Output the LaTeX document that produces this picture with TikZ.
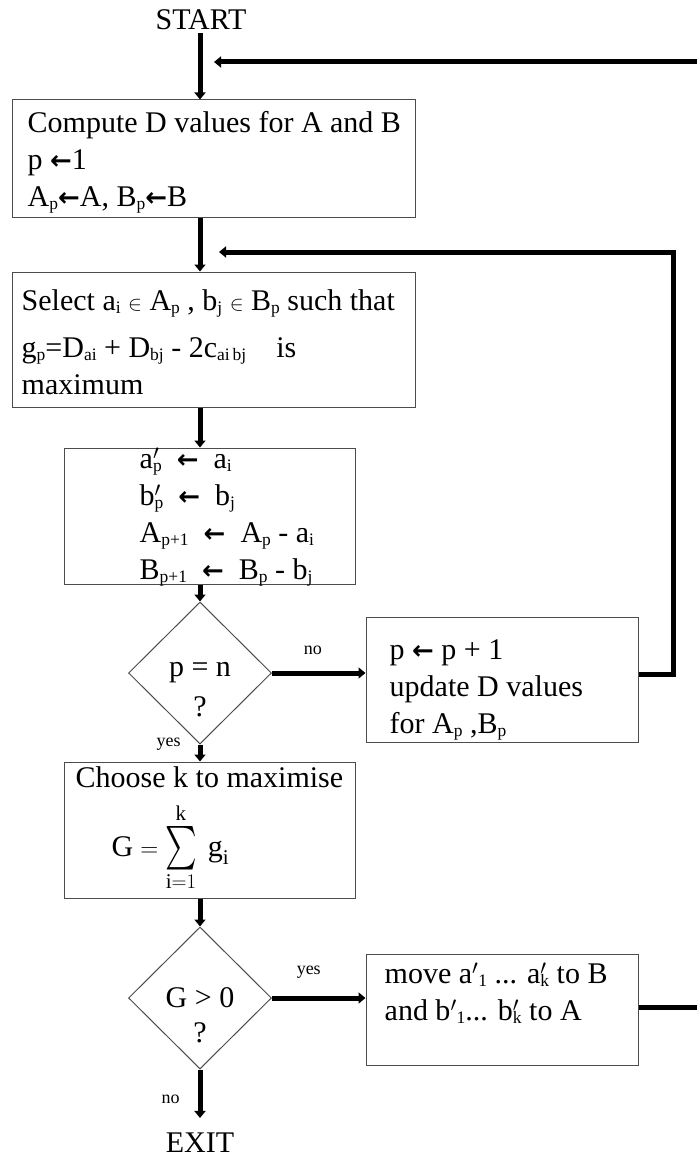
\documentclass[tikz,border=0pt]{standalone}
\usepackage{amsmath,amssymb}
\usepackage{graphicx}
\usepackage{fontspec}
\setmainfont{Liberation Serif}
\newfontfamily\arrfont{DejaVu Sans}
\usepackage{tikz}
\usetikzlibrary{arrows.meta,shapes.geometric}

\newcommand{\sbs}[1]{\raisebox{-3pt}{\fontsize{17.5}{17.5}\selectfont#1}}
\newcommand{\larr}{{\arrfont\bfseries\fontsize{26}{26}\selectfont ←}}

\tikzset{
  stepbox/.style={rectangle, draw=black!70, line width=1pt, inner sep=0pt},
  txt/.style={anchor=west, align=left, inner sep=0pt},
  decision/.style={diamond, draw=black!70, line width=1pt,
    minimum width=143pt, minimum height=142pt, inner sep=0pt},
  term/.style={inner sep=3pt},
  flow/.style={line width=5pt, -{Triangle[width=11pt,length=7pt]}},
  lbl/.style={font=\fontsize{18}{18}\selectfont, inner sep=2pt},
}

\begin{document}
\begin{tikzpicture}[x=1pt, y=-1pt, font=\fontsize{30}{37}\selectfont]
\useasboundingbox (0,0) rectangle (696,1158);
% start / exit
\node[term] (start) at (201,20) {START};
\node[term] (exit) at (200,1143) {EXIT};
% process boxes
\node[stepbox, minimum width=403pt, minimum height=118pt] (compute) at (213.5,159) {};
\node[txt] (computet) at ([xshift=16pt,yshift=-3pt]compute.west)
  {Compute D values for A and B\\ p \larr1\\ A\sbs{p}\larr A, B\sbs{p}\larr B};
\node[stepbox, minimum width=403pt, minimum height=135pt] (select) at (213.5,339.5) {};
\node[txt] (selectt) at ([xshift=10pt,yshift=-3pt]select.west)
  {Select a\sbs{i} $\scriptstyle\in$ A\sbs{p} , b\sbs{j} $\scriptstyle\in$ B\sbs{p} such that\\[10pt]
   g\sbs{p}=D\sbs{ai} + D\sbs{bj} - 2c\sbs{ai\,bj}\quad is\\ maximum};
\node[stepbox, minimum width=291pt, minimum height=136pt] (swap) at (209.5,516) {};
\node[txt] (swapt) at ([xshift=76pt,yshift=-1pt]swap.west)
  {a\rlap{$'$}\sbs{p}~~\larr~~a\sbs{i}\\
   b\rlap{$'$}\sbs{p}~~\larr~~b\sbs{j}\\
   A\sbs{p+1}~~\larr~~A\sbs{p} - a\sbs{i}\\
   B\sbs{p+1}~~\larr~~B\sbs{p} - b\sbs{j}};
\node[stepbox, minimum width=272pt, minimum height=125pt] (update) at (502,679.5) {};
\node[txt] (updatet) at ([xshift=24pt,yshift=-10pt]update.west)
  {p \larr{} p + 1\\ update D values\\ for A\sbs{p} ,B\sbs{p}};
\node[stepbox, minimum width=291pt, minimum height=136pt] (choose) at (209.5,830) {};
\node[txt] (chooset) at ([xshift=12pt,yshift=1pt]choose.west)
  {Choose k to maximise\\[14pt]
   \hspace*{36pt}$\text{G}=\mathop{\scalebox{1}[1.45]{$\sum$}}\limits_{\text{i}=1}^{\text{k}}\;\text{g}_{\text{i}}$};
\node[stepbox, minimum width=272pt, minimum height=111pt] (move) at (502,1009.5) {};
\node[txt] (movet) at ([xshift=19pt,yshift=16pt]move.west)
  {move a$'$\sbs{1} ... a\rlap{$'$}\sbs{k} to B\\ and b$'$\sbs{1}... b\rlap{$'$}\sbs{k} to A};
% decisions
\node[decision, label={[name=testnq, yshift=-34pt]center:?}] (testn) at (200,673) {p = n};
\node[decision, label={[name=testgq, yshift=-35pt]center:?}] (testg) at (200,998) {G > 0};

% main flow
\draw[flow] (start.south -| testn) -- (testn |- compute.north);
\draw[flow] (testn |- compute.south) -- (testn |- select.north);
\draw[flow] (testn |- select.south) -- (testn |- swap.north);
\draw[flow] (testn |- swap.south) -- (testn.north);
\draw[flow] (testn.east) -- node[lbl, above=14pt, xshift=-6pt] (nolbl1) {no} (testn.east -| update.west);
\draw[flow] (testn.south) node[lbl, anchor=east, xshift=-15pt] (yeslbl1) {yes} -- (testn.south |- choose.north);
\draw[flow] (testn |- choose.south) -- (testg.north);
\draw[flow] (testg.east) -- node[lbl, above=15pt, xshift=-10pt] (yeslbl2) {yes} (testg.east -| move.west);
\draw[flow, shorten >=12pt] (testg.south) -- node[lbl, left=16pt] (nolbl2) {no} (exit.north);
% loops back
\coordinate (back1) at (219,252);
\coordinate (back2) at (214,62);
\draw[flow] ([yshift=5.5pt]update.east) -- ++(35,0) |- (back1);
\draw[flow] ([yshift=2.5pt]move.east) -- ++(64,0) |- (back2);
\end{tikzpicture}
\end{document}
